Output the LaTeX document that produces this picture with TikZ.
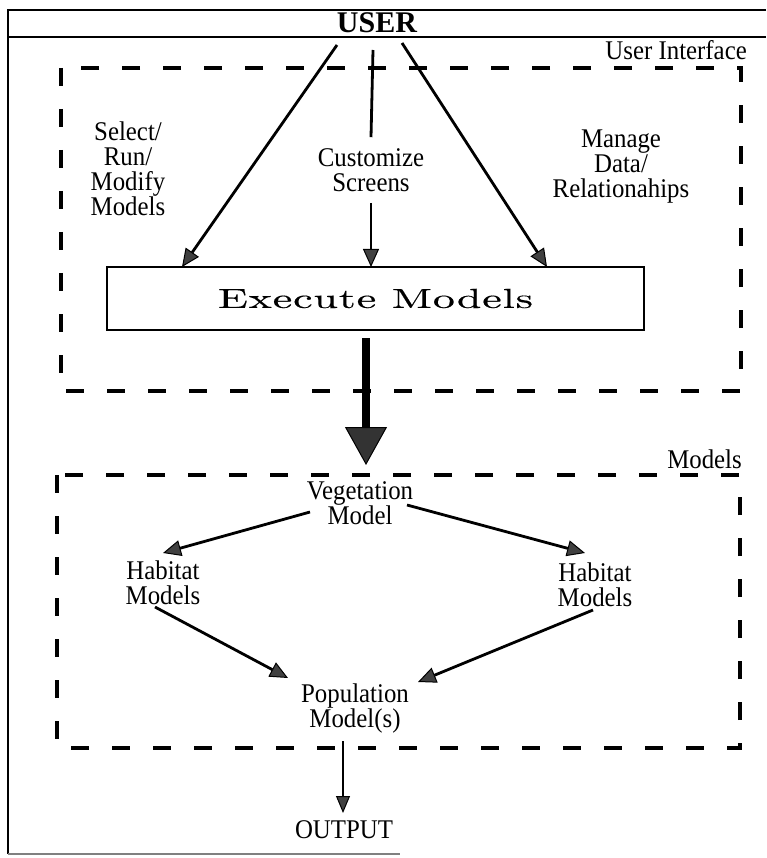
\documentclass[tikz,border=0pt]{standalone}
\usepackage{fontspec}
\setmainfont{Liberation Serif}
\newfontfamily\labelfont[FakeStretch=0.92]{Liberation Serif}
\newfontfamily\execfont[FakeStretch=1.6,LetterSpace=3,FakeBold=0.4]{lmroman10-regular.otf}
\usetikzlibrary{arrows.meta}

\begin{document}
\begin{tikzpicture}[x=1pt,y=-1pt,
  lbl/.style={align=center,font=\labelfont\fontsize{27}{25}\selectfont,inner sep=0pt},
  conn/.style={line width=2.8pt,-{Triangle[length=18pt,width=16pt,line width=1pt,fill=black!75]}},
  thinconn/.style={line width=2.2pt,-{Triangle[length=17pt,width=14pt,line width=1pt,fill=black!75]}},
  bigconn/.style={line width=8pt,-{Triangle[length=38pt,width=42pt,line width=1pt,fill=black!80]}},
  dbox/.style={line width=3.5pt,dash pattern=on 18pt off 23pt},
  frame/.style={line width=2.2pt}]
\useasboundingbox (0,0) rectangle (766,858);

% outer frame and title bar
\draw[frame] (766,10) -- (8,10) -- (8,854);
\draw[line width=1.8pt] (8,37) -- (766,37);
\draw[line width=1.5pt,black!50] (8,854) -- (400,854);
\node[font=\fontsize{30}{30}\selectfont\bfseries,anchor=base,inner sep=0pt] (user) at (377,33) {USER};

% user interface region
\draw[dbox] (61,68) rectangle (741,391);
\node[lbl,anchor=base east] (uilbl) at (747,60) {User Interface};

\node[lbl] (sel) at (128,169) {Select/\\Run/\\Modify\\Models};
\node[lbl,inner ysep=11pt] (cust) at (371,170) {Customize\\Screens};
\node[lbl] (mng) at (621,167) {Manage\\Data/\\Relationahips};

\node[draw,line width=1.2pt,minimum width=537pt,minimum height=63pt,inner sep=0pt,
      font=\execfont\fontsize{27.5}{27.5}\selectfont] (exec) at (375.5,298.5) {Execute Models};

\coordinate (u1) at (337,45);
\coordinate (u2) at (373,50);
\coordinate (u3) at (402,43);
\coordinate (e1) at (182,267);
\coordinate (e2) at (371,267);
\coordinate (e3) at (547,267);

\draw[conn] (u1) -- (e1);
\draw[line width=2.8pt] (u2) -- (cust.north);
\draw[conn] (cust.south) -- (e2);
\draw[conn] (u3) -- (e3);

% flow into the models
\coordinate (x1) at (366,338);
\coordinate (x2) at (366,465);
\draw[bigconn] (x1) -- (x2);

% models region
\draw[dbox] (57,475) rectangle (740,748);
\node[lbl,anchor=base east] (mlbl) at (742,468) {Models};

\node[lbl] (veg) at (360,503) {Vegetation\\Model};
\node[lbl] (habl) at (163,583) {Habitat\\Models};
\node[lbl] (habr) at (595,585) {Habitat\\Models};
\node[lbl] (pop) at (355,708) {Population\\Model(s)};
\node[lbl] (out) at (344,830) {OUTPUT};

\coordinate (vl) at (310,512);
\coordinate (vr) at (407,505);
\coordinate (hlt) at (163,553);
\coordinate (hrt) at (585,553);
\coordinate (hlb) at (155,607);
\coordinate (hrb) at (593,610);
\coordinate (pl) at (288,678);
\coordinate (pr) at (418,682);
\coordinate (o1) at (343,741);
\coordinate (o2) at (343,813);

\draw[conn] (vl) -- (hlt);
\draw[conn] (vr) -- (hrt);
\draw[conn] (hlb) -- (pl);
\draw[conn] (hrb) -- (pr);
\draw[thinconn] (o1) -- (o2);
\end{tikzpicture}
\end{document}
